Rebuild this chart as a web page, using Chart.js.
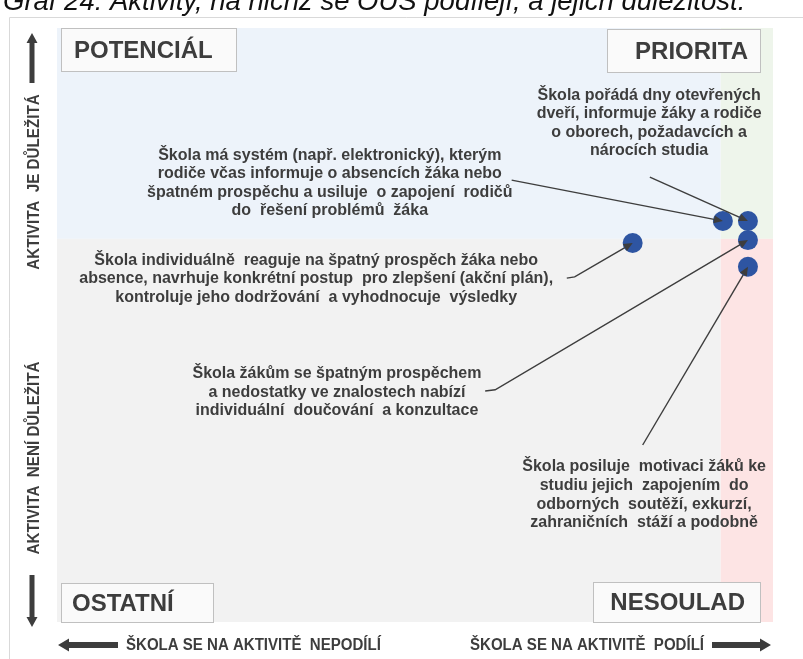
<!DOCTYPE html>
<html>
<head>
<meta charset="utf-8">
<script src="https://cdn.jsdelivr.net/npm/chart.js@4/dist/chart.umd.min.js"></script>
<style>
html,body{margin:0;padding:0;background:#fff;}
#c{display:block;}
</style>
</head>
<body>
<canvas id="c" width="803" height="659"></canvas>
<script>
// ---- DATA ----
const activities = [
  ["Škola má systém (např. elektronický), kterým", "rodiče včas informuje o absencích žáka nebo", "špatném prospěchu a usiluje  o zapojení  rodičů", "do  řešení problémů  žáka"],
  ["Škola pořádá dny otevřených", "dveří, informuje žáky a rodiče", "o oborech, požadavcích a", "nárocích studia"],
  ["Škola individuálně  reaguje na špatný prospěch žáka nebo", "absence, navrhuje konkrétní postup  pro zlepšení (akční plán),", "kontroluje jeho dodržování  a vyhodnocuje  výsledky"],
  ["Škola žákům se špatným prospěchem", "a nedostatky ve znalostech nabízí", "individuální  doučování  a konzultace"],
  ["Škola posiluje  motivaci žáků ke", "studiu jejich  zapojením  do", "odborných  soutěží, exkurzí,", "zahraničních  stáží a podobně"]
];
const participation = [93.0, 96.5, 80.4, 96.5, 96.5];   // x: škola se na aktivitě podílí
const importance    = [67.5, 67.5, 63.8, 64.3, 59.8];   // y: aktivita je důležitá
const xSplit = 92.7;
const ySplit = 64.5;
const quadrantLabels = ["POTENCIÁL", "PRIORITA", "OSTATNÍ", "NESOULAD"];
const title = "Graf 24: Aktivity, na nichž se OUS podílejí, a jejich důležitost.";
const axisTexts = ["AKTIVITA  JE DŮLEŽITÁ", "AKTIVITA  NENÍ DŮLEŽITÁ", "ŠKOLA SE NA AKTIVITĚ  NEPODÍLÍ", "ŠKOLA SE NA AKTIVITĚ  PODÍLÍ"];

// ---- LAYOUT (annotation placement, in scale units) ----
const labelLayout = [
  {cx: 38.1, y: 78.6, from: [[63.5, 74.4]]},
  {cx: 82.7, y: 88.7, from: [[82.8, 74.9]]},
  {cx: 36.2, y: 60.9, from: [[71.2, 57.9], [72.3, 58.1]]},
  {cx: 39.1, y: 41.8, from: [[59.8, 38.9], [61.2, 39.1]]},
  {cx: 82.0, y: 26.1, from: [[81.8, 29.8]]}
];

const DARK = '#3d3d3d';
const SANS = '"Liberation Sans", Arial, sans-serif';

function narrowText(ctx, text, x, y, sx) {
  ctx.save();
  ctx.translate(x, y);
  ctx.scale(sx, 1);
  ctx.fillText(text, 0, 0);
  ctx.restore();
}

function blockArrow(ctx, x1, y1, x2, y2, shaft, headW, headL) {
  const ang = Math.atan2(y2 - y1, x2 - x1);
  const len = Math.hypot(x2 - x1, y2 - y1);
  ctx.save();
  ctx.translate(x1, y1);
  ctx.rotate(ang);
  ctx.fillStyle = DARK;
  ctx.beginPath();
  ctx.moveTo(0, -shaft / 2);
  ctx.lineTo(len - headL, -shaft / 2);
  ctx.lineTo(len - headL, -headW / 2);
  ctx.lineTo(len, 0);
  ctx.lineTo(len - headL, headW / 2);
  ctx.lineTo(len - headL, shaft / 2);
  ctx.lineTo(0, shaft / 2);
  ctx.closePath();
  ctx.fill();
  ctx.restore();
}

const decor = {
  id: 'decor',
  beforeDatasetsDraw(chart) {
    const {ctx, chartArea: a, scales: {x, y}} = chart;
    const sx = x.getPixelForValue(xSplit), sy = y.getPixelForValue(ySplit);
    ctx.save();
    // frame
    ctx.strokeStyle = '#d9d9d9';
    ctx.lineWidth = 1;
    ctx.beginPath();
    ctx.moveTo(9.5, 900); ctx.lineTo(9.5, 17.5); ctx.lineTo(900, 17.5);
    ctx.stroke();
    // quadrants
    ctx.fillStyle = '#edf3fa'; ctx.fillRect(a.left, a.top, sx - a.left, sy - a.top);
    ctx.fillStyle = '#eef5eb'; ctx.fillRect(sx, a.top, a.right - sx, sy - a.top);
    ctx.fillStyle = '#f2f2f2'; ctx.fillRect(a.left, sy, sx - a.left, a.bottom - sy);
    ctx.fillStyle = '#fde4e4'; ctx.fillRect(sx, sy, a.right - sx, a.bottom - sy);
    // quadrant label boxes
    const boxes = [
      {x: a.left + 4, y: a.top, w: 176, h: 44, tx: a.left + 17, align: 'left'},
      {x: a.right - 166, y: a.top + 1, w: 154, h: 44, tx: a.right - 25, align: 'right'},
      {x: a.left + 4, y: a.bottom - 39, w: 153, h: 40, tx: a.left + 15, align: 'left'},
      {x: a.right - 180, y: a.bottom - 40, w: 168, h: 41, tx: a.right - 28, align: 'right'}
    ];
    boxes.forEach((b, i) => {
      ctx.fillStyle = '#fafafa';
      ctx.fillRect(b.x, b.y, b.w, b.h);
      ctx.strokeStyle = '#c0c0c0';
      ctx.strokeRect(b.x + 0.5, b.y + 0.5, b.w - 1, b.h - 1);
      ctx.fillStyle = DARK;
      ctx.font = 'bold 24px ' + SANS;
      ctx.textAlign = b.align;
      ctx.textBaseline = 'middle';
      ctx.fillText(quadrantLabels[i], b.tx, b.y + b.h / 2 + 1);
    });
    // activity texts
    ctx.font = 'bold 16px ' + SANS;
    ctx.textAlign = 'center';
    ctx.textBaseline = 'middle';
    ctx.fillStyle = DARK;
    labelLayout.forEach((L, i) => {
      const cx = x.getPixelForValue(L.cx), y0 = y.getPixelForValue(L.y);
      activities[i].forEach((line, j) => narrowText(ctx, line, cx, y0 + j * 18.6, 1.0));
    });
    ctx.restore();
  },
  afterDatasetsDraw(chart) {
    const {ctx, chartArea: a, scales: {x, y}} = chart;
    ctx.save();
    // callouts
    ctx.strokeStyle = DARK;
    ctx.fillStyle = DARK;
    ctx.lineWidth = 1.4;
    labelLayout.forEach((L, i) => {
      const pts = L.from.map(p => [x.getPixelForValue(p[0]), y.getPixelForValue(p[1])]);
      const tx = x.getPixelForValue(participation[i]), ty = y.getPixelForValue(importance[i]);
      const last = pts[pts.length - 1];
      const ang = Math.atan2(ty - last[1], tx - last[0]);
      const hl = 9, hw = 4;
      const bx = tx - hl * Math.cos(ang), by = ty - hl * Math.sin(ang);
      ctx.beginPath();
      ctx.moveTo(pts[0][0], pts[0][1]);
      for (let k = 1; k < pts.length; k++) ctx.lineTo(pts[k][0], pts[k][1]);
      ctx.lineTo(bx, by);
      ctx.stroke();
      ctx.beginPath();
      ctx.moveTo(tx, ty);
      ctx.lineTo(bx + hw * Math.sin(ang), by - hw * Math.cos(ang));
      ctx.lineTo(bx - hw * Math.sin(ang), by + hw * Math.cos(ang));
      ctx.closePath();
      ctx.fill();
    });
    // title (cut at top)
    ctx.fillStyle = '#111';
    ctx.font = 'italic 27.5px ' + SANS;
    ctx.textAlign = 'left';
    ctx.textBaseline = 'alphabetic';
    ctx.fillText(title, 3, 10);
    // vertical axis arrows & texts
    blockArrow(ctx, 32, 83, 32, 33, 5, 11, 10);
    blockArrow(ctx, 32, 575, 32, 627, 5, 11, 10);
    ctx.font = 'bold 16px ' + SANS;
    ctx.fillStyle = DARK;
    ctx.textAlign = 'center';
    ctx.textBaseline = 'middle';
    ctx.save(); ctx.translate(35, 182); ctx.rotate(-Math.PI / 2); narrowText(ctx, axisTexts[0], 0, 0, 0.95); ctx.restore();
    ctx.save(); ctx.translate(35, 458); ctx.rotate(-Math.PI / 2); narrowText(ctx, axisTexts[1], 0, 0, 0.95); ctx.restore();
    // horizontal axis arrows & texts
    blockArrow(ctx, 118, 645, 58, 645, 6, 13, 11);
    blockArrow(ctx, 712, 645, 771, 645, 6, 13, 11);
    ctx.textAlign = 'left';
    narrowText(ctx, axisTexts[2], 126, 646, 0.94);
    ctx.textAlign = 'right';
    narrowText(ctx, axisTexts[3], 704, 646, 0.94);
    ctx.restore();
  }
};

new Chart(document.getElementById('c'), {
  type: 'scatter',
  data: {
    datasets: [{
      data: participation.map((v, i) => ({x: v, y: importance[i]})),
      backgroundColor: '#2e55a2',
      borderWidth: 0,
      pointRadius: 10,
      pointHoverRadius: 10
    }]
  },
  options: {
    responsive: false,
    devicePixelRatio: 1,
    animation: false,
    layout: {padding: {left: 57, top: 28, right: 30, bottom: 37}},
    plugins: {legend: {display: false}, tooltip: {enabled: false}},
    scales: {
      x: {type: 'linear', min: 0, max: 100, display: false},
      y: {type: 'linear', min: 0, max: 100, display: false}
    }
  },
  plugins: [decor]
});
</script>
</body>
</html>
